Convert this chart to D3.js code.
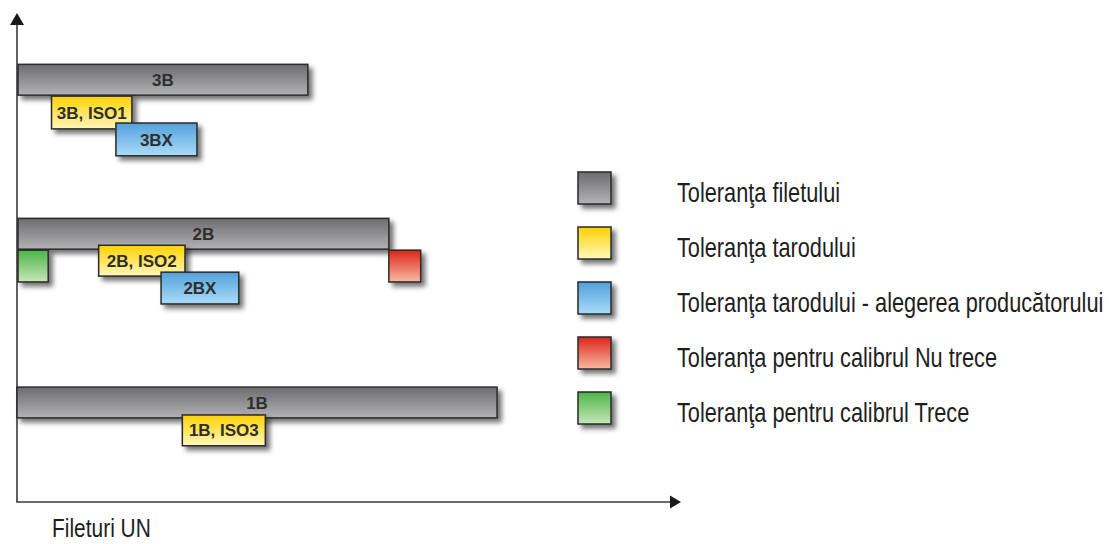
<!DOCTYPE html>
<html>
<head>
<meta charset="utf-8">
<script src="https://cdn.jsdelivr.net/npm/d3@7"></script>
<style>
  html, body { margin: 0; padding: 0; background: #fff; }
  svg { display: block; }
</style>
</head>
<body>
<svg id="chart" width="1109" height="544"></svg>
<script>
// ---------- DATA ----------
// Tolerance bands (x in % of axis length, level = bottom edge in level units)
const markLabels = ["3B", "3B, ISO1", "3BX", "2B", "", "", "2B, ISO2", "2BX", "1B", "1B, ISO3"];
const markKinds  = ["thread", "tap", "tapMfr", "thread", "go", "nogo", "tap", "tapMfr", "thread", "tap"];
const markStart  = [0.15, 5.2, 14.9, 0.15, 0.15, 56.0, 12.3, 21.7, 0.0, 24.9];
const markEnd    = [43.8, 17.3, 27.1, 56.0, 4.7, 60.8, 25.3, 33.4, 72.3, 37.4];
const markLevel  = [8.32, 7.63, 7.08, 5.17, 4.50, 4.50, 4.62, 4.05, 1.72, 1.15];
const markThick  = [0.63, 0.67, 0.67, 0.63, 0.65, 0.65, 0.63, 0.65, 0.63, 0.63];

const legendKinds  = ["thread", "tap", "tapMfr", "nogo", "go"];
const legendLabels = [
  "Toleranţa filetului",
  "Toleranţa tarodului",
  "Toleranţa tarodului - alegerea producătorului",
  "Toleranţa pentru calibrul Nu trece",
  "Toleranţa pentru calibrul Trece"
];
const xAxisTitle = "Fileturi UN";

// ---------- STYLE ----------
const gradColors = {
  thread: ["#6c6c6f", "#b3b3b5"],
  tap:    ["#ffd200", "#fff7bd"],
  tapMfr: ["#52a0db", "#aadcf7"],
  nogo:   ["#dd2419", "#f8baa3"],
  go:     ["#4bb545", "#c8e6ba"]
};
const strokeCol = "#2a2a2a";
const condense = 0.805;

// ---------- SCALES ----------
const svg = d3.select("#chart");
const x = d3.scaleLinear().domain([0, 100]).range([17, 681]);
const y = d3.scaleLinear().domain([0, 10]).range([502, 13]);

// ---------- DEFS ----------
const defs = svg.append("defs");
Object.entries(gradColors).forEach(([k, c]) => {
  const g = defs.append("linearGradient").attr("id", "g-" + k)
    .attr("x1", 0).attr("y1", 0).attr("x2", 0).attr("y2", 1);
  g.append("stop").attr("offset", "0%").attr("stop-color", c[0]);
  g.append("stop").attr("offset", "100%").attr("stop-color", c[1]);
});
const f = defs.append("filter").attr("id", "shadow")
  .attr("x", "-20%").attr("y", "-30%").attr("width", "150%").attr("height", "180%");
f.append("feDropShadow").attr("dx", 4).attr("dy", 4).attr("stdDeviation", 2.6)
  .attr("flood-color", "#000").attr("flood-opacity", 0.55);

// ---------- AXES ----------
const axisCol = "#3a3a3a";
const axes = svg.append("g");
axes.append("line")
  .attr("x1", x(0)).attr("x2", x(0))
  .attr("y1", y(0)).attr("y2", y(10) + 10)
  .attr("stroke", axisCol).attr("stroke-width", 1.6);
axes.append("line")
  .attr("x1", x(0) - 0.8).attr("x2", x(100) - 10)
  .attr("y1", y(0)).attr("y2", y(0))
  .attr("stroke", axisCol).attr("stroke-width", 1.6);
// arrowheads
axes.append("path")
  .attr("d", `M${x(0)},${y(10)} L${x(0) - 7},${y(10) + 12} L${x(0) + 7},${y(10) + 12} Z`)
  .attr("fill", "#1a1a1a");
axes.append("path")
  .attr("d", `M${x(100)},${y(0)} L${x(100) - 11},${y(0) - 6.5} L${x(100) - 11},${y(0) + 6.5} Z`)
  .attr("fill", "#1a1a1a");

axes.append("text")
  .attr("transform", `translate(52,537) scale(${condense},1)`)
  .attr("font-family", "'Liberation Sans', Arial, sans-serif")
  .attr("font-size", 26)
  .attr("fill", "#1e1e1e")
  .text(xAxisTitle);

// ---------- MARKS ----------
const marks = markLabels.map((l, i) => ({
  label: l, kind: markKinds[i], s: markStart[i], e: markEnd[i],
  lvl: markLevel[i], th: markThick[i]
}));

const mg = svg.append("g");
const item = mg.selectAll("g.mark").data(marks).join("g").attr("class", "mark");
item.append("rect")
  .attr("x", d => x(d.s))
  .attr("y", d => y(d.lvl + d.th))
  .attr("width", d => x(d.e) - x(d.s))
  .attr("height", d => y(d.lvl) - y(d.lvl + d.th))
  .attr("fill", d => `url(#g-${d.kind})`)
  .attr("stroke", strokeCol).attr("stroke-width", 1.5)
  .attr("filter", "url(#shadow)");
item.append("text")
  .attr("x", d => (x(d.s) + x(d.e)) / 2)
  .attr("y", d => (y(d.lvl) + y(d.lvl + d.th)) / 2)
  .attr("dy", "0.36em")
  .attr("text-anchor", "middle")
  .attr("font-family", "'Liberation Sans', Arial, sans-serif")
  .attr("font-weight", "bold")
  .attr("font-size", 17)
  .attr("fill", "#2e2e2e")
  .text(d => d.label);

// ---------- LEGEND ----------
const ly = d3.scalePoint().domain(legendKinds).range([172, 392]);
const lg = svg.append("g").selectAll("g").data(legendKinds).join("g");
lg.append("rect")
  .attr("x", 578).attr("y", d => ly(d))
  .attr("width", 33).attr("height", 32)
  .attr("fill", d => `url(#g-${d})`)
  .attr("stroke", strokeCol).attr("stroke-width", 1.5)
  .attr("filter", "url(#shadow)");
lg.append("text")
  .attr("transform", d => `translate(677,${ly(d) + 30}) scale(${condense},1)`)
  .attr("font-family", "'Liberation Sans', Arial, sans-serif")
  .attr("font-size", 27)
  .attr("fill", "#1e1e1e")
  .text((d, i) => legendLabels[i]);
</script>
</body>
</html>
